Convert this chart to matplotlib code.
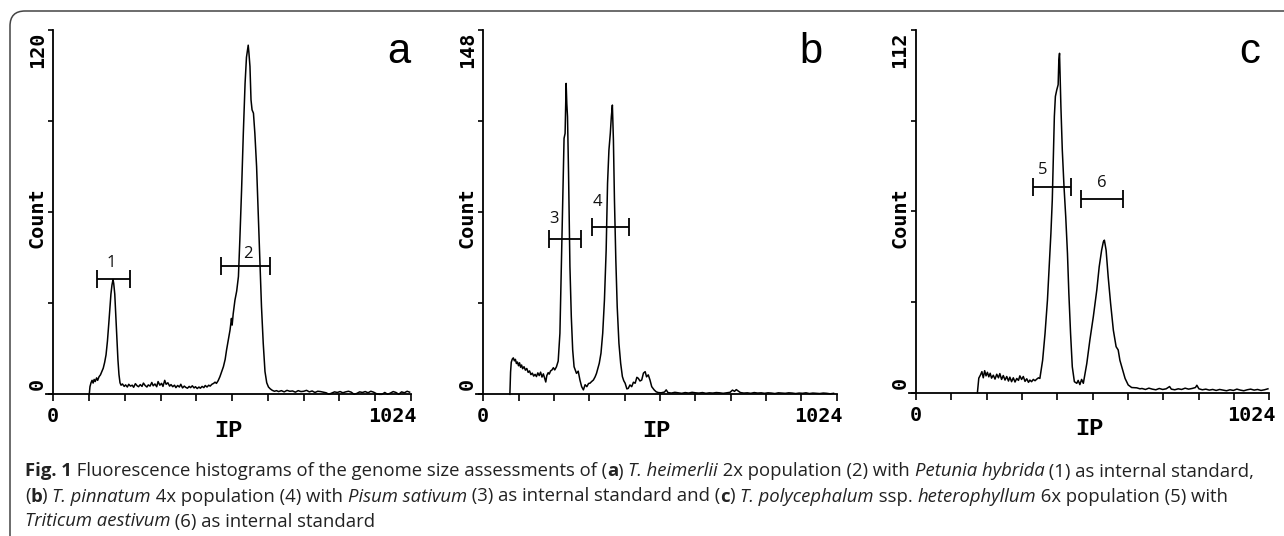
import matplotlib
matplotlib.use("Agg")
import matplotlib.pyplot as plt
from matplotlib.patches import FancyBboxPatch
from matplotlib.transforms import IdentityTransform

W, H, DPI = 1284, 536, 100

# ---- data (channel, count) ----
letters = ["a", "b", "c"]
count_max = [120, 148, 112]
channel_max = 1024

a_trace = [
    (103, 0), (105, 2.5), (108, 3.8), (111, 4.6), (114, 3.7), (117, 4.9), (120, 4.2), (124, 5.4),
    (127, 4.6), (131, 5.8), (135, 6.4), (139, 7.5), (143, 8.6), (147, 10.5), (151, 13.0), (155, 17.5),
    (159, 23.5), (162, 28.5), (165, 33.0), (168, 36.0), (171, 37.8), (173, 36.5), (176, 33.0),
    (179, 26.0), (182, 18.5), (185, 11.5), (188, 6.5), (191, 3.8), (194, 3.0),
    (198, 3.4), (203, 2.6), (207, 3.1), (212, 2.4), (216, 3.3), (221, 2.7), (226, 3.0), (230, 2.3),
    (235, 3.5), (240, 2.8), (244, 2.5), (249, 3.2), (254, 2.6), (258, 3.7), (263, 2.9), (268, 2.4),
    (272, 3.1), (277, 2.7), (282, 3.9), (286, 2.8), (291, 3.4), (296, 2.5), (300, 4.2), (305, 3.0),
    (310, 3.6), (314, 2.6), (319, 4.6), (323, 3.3), (328, 3.8), (333, 2.7), (337, 3.2), (342, 2.5),
    (347, 3.0), (351, 2.2), (356, 2.9), (361, 2.4), (365, 3.3), (370, 2.1), (375, 2.7), (379, 2.3),
    (384, 2.0), (389, 2.6), (393, 2.2), (398, 2.8), (403, 2.1), (407, 2.5), (412, 1.9), (417, 2.4),
    (421, 2.0), (426, 2.6), (431, 2.2), (435, 2.9), (440, 2.4), (445, 3.0), (449, 2.7), (454, 3.3),
    (459, 3.6), (463, 4.0),
    (467, 3.6), (472, 4.5), (477, 5.8), (482, 7.4), (487, 9.1), (492, 11.5), (496, 14.6), (501, 18.0),
    (506, 21.2), (510, 25.0), (512, 22.8), (515, 26.5), (520, 31.0), (525, 34.0), (530, 38.8),
    (534, 50.8), (539, 67.3), (544, 86.0), (549, 102.4), (553, 111.0), (556, 113.5), (558, 115.0),
    (560, 112.5), (563, 108.0), (566, 97.0), (569, 93.7), (573, 92.6), (577, 86.0), (582, 75.0),
    (587, 58.5), (592, 42.0), (596, 28.9), (601, 16.8), (606, 7.5), (611, 3.8), (616, 2.4),
    (621, 1.8), (627, 1.3), (633, 1.0), (639, 1.2),
    (645, 0.9), (653, 1.2), (661, 0.8), (669, 1.3), (677, 1.0), (685, 1.1), (693, 0.7), (701, 1.2),
    (709, 0.9), (717, 1.0), (725, 1.3), (733, 0.8), (741, 1.1), (749, 0.6), (757, 1.0), (765, 0.9),
    (773, 0.7), (781, 0.5), (789, 0.0), (797, 0.4), (805, 0.8), (813, 0.6), (821, 0.9), (829, 0.5),
    (837, 0.8), (845, 1.0), (853, 0.7), (861, 0.0), (869, 0.3), (877, 0.8), (885, 0.6), (893, 0.9),
    (901, 0.5), (909, 1.0), (917, 0.7), (925, 0.2), (933, 0.0), (941, 0.0), (949, 0.6), (957, 0.0),
    (965, 0.4), (973, 0.9), (981, 0.6), (989, 0.0), (997, 0.8), (1005, 0.5), (1013, 1.0), (1020, 0.7),
]

b_trace = [
    (77, 0), (79, 9.0), (81, 13.0), (84, 14.3), (87, 14.8), (90, 13.6), (93, 14.2), (96, 12.5),
    (99, 13.1), (102, 11.6), (105, 12.8), (108, 11.0), (111, 11.9), (114, 10.4), (118, 11.2),
    (122, 9.8), (126, 10.5), (130, 8.9), (134, 9.5), (138, 8.0), (142, 8.6), (146, 7.4), (150, 8.1),
    (154, 7.2), (158, 8.7), (162, 7.6), (166, 9.0), (170, 7.0), (174, 8.3), (178, 6.4), (181, 5.0),
    (184, 7.6), (188, 8.8), (191, 8.2), (195, 9.5), (199, 9.9), (203, 10.8), (207, 9.9), (212, 11.2),
    (217, 13.5), (222, 24.8), (225, 45.0), (230, 79.0), (234, 104.0), (237, 106.0), (240, 126.3),
    (242, 118.0), (244, 112.8), (247, 89.8), (251, 51.9), (255, 31.5), (259, 18.0), (263, 11.2),
    (270, 8.5), (275, 9.4), (280, 5.8), (285, 3.1), (290, 1.8), (295, 3.9), (300, 3.1), (305, 4.4),
    (309, 4.5), (314, 5.2), (319, 5.8), (324, 7.1), (328, 8.5), (336, 12.6), (341, 16.7), (346, 24.8),
    (351, 38.3), (356, 58.6), (360, 85.7), (364, 99.2), (368, 106.0), (371, 112.8), (374, 117.5),
    (377, 103.3), (380, 79.0), (384, 54.6), (388, 35.6), (393, 20.7), (398, 12.6), (403, 7.2),
    (407, 5.5), (411, 4.5), (416, 2.2), (420, 2.4), (425, 3.8), (430, 3.1), (435, 4.9), (440, 4.5),
    (445, 6.9), (449, 6.5), (454, 5.4), (459, 5.8), (464, 8.6), (469, 9.2), (473, 7.1), (478, 7.9),
    (483, 5.8), (488, 3.1), (495, 1.8), (501, 1.0), (507, 0.7),
    (515, 0.6), (525, 0.9), (530, 1.8), (535, 0.7), (545, 0.5), (555, 0.8), (565, 0.6), (575, 0.4),
    (585, 0.7), (595, 0.5), (605, 0.8), (615, 0.6), (625, 0.5), (635, 0.7), (645, 0.4), (655, 0.6),
    (665, 0.5), (675, 0.7), (685, 0.6), (695, 0.4), (705, 0.6), (715, 0.8), (722, 1.7), (728, 1.2),
    (733, 1.9), (738, 1.4), (745, 0.7), (755, 0.5), (765, 0.6), (775, 0.4), (785, 0.7), (795, 0.5),
    (805, 0.6), (815, 0.4), (825, 0.6), (835, 0.5), (845, 0.3), (855, 0.6), (865, 0.5), (875, 0.4),
    (885, 0.6), (895, 0.5), (905, 0.3), (915, 0.5), (925, 0.4), (935, 0.6), (945, 0.3), (955, 0.5),
    (965, 0.4), (975, 0.3), (985, 0.5), (995, 0.4), (1005, 0.2), (1015, 0.4),
]

c_trace = [
    (178, 0), (182, 4.5), (187, 5.5), (191, 6.5), (195, 4.6), (199, 6.8), (203, 5.2), (207, 6.3),
    (211, 4.9), (215, 6.0), (219, 4.5), (224, 5.4), (229, 4.2), (234, 5.7), (239, 4.6), (243, 5.9),
    (248, 4.1), (253, 5.3), (258, 3.9), (263, 5.0), (268, 3.6), (272, 4.8), (277, 3.4), (282, 4.6),
    (287, 3.3), (292, 4.4), (297, 3.8), (301, 5.2), (306, 4.1), (311, 5.0), (316, 3.5), (321, 4.3),
    (326, 3.2), (330, 3.9), (335, 3.4), (340, 4.1), (345, 3.7), (350, 4.2), (355, 4.6), (359, 4.4),
    (367, 10.0), (374, 18.3), (381, 28.6), (386, 38.9), (391, 49.2), (395, 59.5), (398, 71.9),
    (401, 85.3), (404, 91.5), (408, 93.5), (412, 95.1), (414, 102.7), (416, 104.8), (418, 96.5),
    (420, 88.3), (424, 75.0), (429, 63.6), (434, 54.3), (439, 43.0), (443, 30.7), (448, 18.3),
    (453, 8.0), (459, 3.4), (466, 2.9), (470, 3.8), (475, 2.5), (480, 4.1), (485, 2.9),
    (490, 6.0), (495, 9.0), (504, 16.3), (514, 23.5), (524, 31.7), (531, 38.9), (538, 44.0),
    (543, 46.6), (546, 47.1), (551, 44.0), (557, 35.8), (564, 27.6), (572, 19.3), (580, 14.2),
    (586, 13.2), (591, 10.0), (599, 7.0), (606, 4.4), (615, 2.4), (625, 1.6), (640, 1.5), (649, 1.2),
    (655, 1.3), (665, 1.0), (675, 1.4), (685, 1.1), (695, 0.9), (705, 1.3), (715, 1.0), (725, 1.2),
    (735, 1.9), (740, 1.1), (750, 0.9), (760, 1.2), (770, 1.0), (780, 1.4), (790, 1.1), (800, 1.3),
    (810, 1.6), (814, 2.3), (820, 1.2), (830, 0.9), (840, 1.1), (850, 0.8), (860, 1.0), (870, 0.7),
    (880, 1.0), (890, 0.8), (900, 0.6), (910, 0.9), (920, 0.7), (930, 1.1), (940, 0.8), (950, 0.6),
    (960, 0.9), (970, 1.1), (980, 0.8), (990, 1.0), (1000, 0.7), (1010, 0.9), (1020, 1.2),
]
traces = [a_trace, b_trace, c_trace]

# gates: (first channel, last channel, count level, label)
gates = [
    [(124, 221, 37.9, "1"), (480, 620, 42.3, "2")],
    [(190, 283, 63.0, "3"), (314, 422, 68.1, "4")],
    [(340, 449, 63.6, "5"), (478, 601, 59.7, "6")],
]

# ---- layout (pixels of the 1284x536 picture) ----
# (left px at channel -20, right px at 1024, top px, bottom px)
AX_PX = [(46.3, 411.0, 30.0, 394.3), (476.4, 836.7, 30.0, 394.3), (909.1, 1269.3, 30.0, 392.7)]
GATE_LABEL_XY = [[(167, 43.1), (558, 46.2)], [(205, 71.2), (331, 78.1)], [(367, 68.8), (538, 64.8)]]
LETTER_DX = [-1, -14, -9]
MONO = "DejaVu Sans Mono"

fig = plt.figure(figsize=(W / DPI, H / DPI), dpi=DPI)

for i, trace in enumerate(traces):
    l, r, t, b = AX_PX[i]
    ax = fig.add_axes([l / W, 1 - b / H, (r - l) / W, (b - t) / H])
    ymax = count_max[i]
    ch = [p[0] for p in trace]
    cnt = [p[1] for p in trace]
    ax.plot(ch, cnt, color="black", lw=1.1, clip_on=False)
    ax.set_xlim(-20, channel_max)
    ax.set_ylim(0, ymax)
    for s in ("top", "right"):
        ax.spines[s].set_visible(False)
    ax.spines["left"].set_position(("data", 0))
    for s in ("left", "bottom"):
        ax.spines[s].set_linewidth(1.3)
    ax.set_xticks([channel_max * k / 10 for k in range(11)])
    ax.set_yticks([ymax * k / 4 for k in range(5)])
    ax.tick_params(axis="x", direction="out", length=5, width=1.2, labelbottom=False)
    ax.tick_params(axis="y", direction="out", length=3.6, width=1.2, labelleft=False)

    tk = dict(fontfamily=MONO, fontweight="bold", fontsize=14.5, color="black",
              textcoords="offset pixels", annotation_clip=False)
    ax.annotate(str(ymax), xy=(0, ymax), xytext=(-16, -2), rotation=90, ha="center", va="top", **tk)
    ax.annotate("0", xy=(0, 0), xytext=(-16, 4), rotation=90, ha="center", va="bottom", **tk)
    ax.annotate("0", xy=(0, 0), xytext=(0, -13), ha="center", va="top", **tk)
    ax.annotate(str(channel_max), xy=(channel_max, 0), xytext=(6, -13), ha="right", va="top", **tk)
    ax.annotate("Count", xy=(0, 0.5), xycoords=("data", "axes fraction"), xytext=(-16, -6),
                rotation=90, ha="center", va="center", **tk)
    tk.update(fontsize=17, fontfamily="Liberation Mono")
    ax.annotate("IP", xy=(0.5, 0), xycoords="axes fraction", xytext=(0, -36),
                ha="center", va="center", **tk)

    for (g0, g1, gy, lab), (lx, ly) in zip(gates[i], GATE_LABEL_XY[i]):
        ax.errorbar([(g0 + g1) / 2], [gy], xerr=[(g1 - g0) / 2], fmt="none", ecolor="black",
                    elinewidth=1.3, capsize=6.5, capthick=1.3)
        ax.text(lx, ly, lab, ha="center", va="center", fontsize=12, fontfamily="Open Sans",
                color="#111")

    ax.annotate(letters[i], xy=(1, 1), xycoords="axes fraction", xytext=(LETTER_DX[i], -32.7),
                textcoords="offset pixels", ha="right", va="baseline", fontsize=30,
                fontfamily="Liberation Sans", color="black", annotation_clip=False)

# ---- frame round figure + caption ----
fig.add_artist(FancyBboxPatch((10, -40), 1330, 536 - 11 + 40, boxstyle="round,pad=0,rounding_size=15",
                              transform=IdentityTransform(), fill=False, edgecolor="#444", lw=1.1))

N, B, I = ("normal", "normal"), ("bold", "normal"), ("normal", "italic")
caption = [
    [("Fig. 1", B), (" Fluorescence histograms of the genome size assessments of (", N), ("a", B),
     (") ", N), ("T. heimerlii", I), (" 2x population (2) with ", N), ("Petunia hybrida", I),
     (" (1) as internal standard,", N)],
    [("(", N), ("b", B), (") ", N), ("T. pinnatum", I), (" 4x population (4) with ", N),
     ("Pisum sativum", I), (" (3) as internal standard and (", N), ("c", B), (") ", N),
     ("T. polycephalum", I), (" ssp. ", N), ("heterophyllum", I), (" 6x population (5) with", N)],
    [("Triticum aestivum", I), (" (6) as internal standard", N)],
]
CAP_X, CAP_Y0, CAP_DY, CAP_FS = 25, 476.5, 25, 13.3
rend = fig.canvas.get_renderer()


def width(s, kw):
    tt = fig.text(0, 0, s + "|", **kw)
    w1 = tt.get_window_extent(rend).width
    tt.set_text("|")
    w2 = tt.get_window_extent(rend).width
    tt.remove()
    return w1 - w2


for k, line in enumerate(caption):
    x = CAP_X
    y = H - (CAP_Y0 + k * CAP_DY)
    for s, (wt, st) in line:
        kw = dict(fontsize=CAP_FS, fontfamily="Open Sans", fontweight=wt, fontstyle=st, color="#222")
        fig.text(x / W, y / H, s, ha="left", va="baseline", **kw)
        x += width(s, kw)

fig.savefig("out.png", dpi=DPI)
